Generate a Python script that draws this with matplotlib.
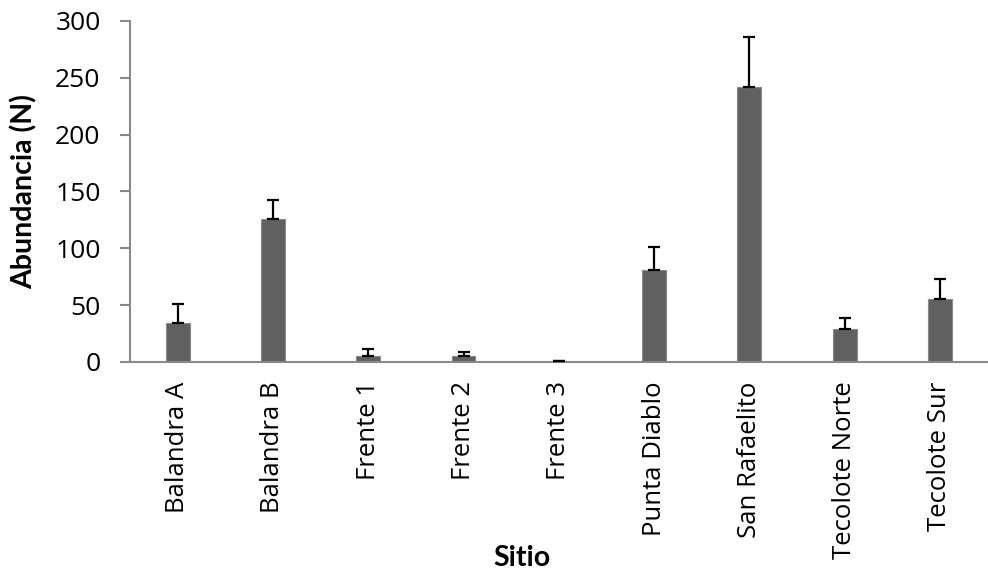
import matplotlib
matplotlib.use("Agg")
import matplotlib.pyplot as plt
import numpy as np

# datos
sitios = ['Balandra A', 'Balandra B', 'Frente 1', 'Frente 2', 'Frente 3',
          'Punta Diablo', 'San Rafaelito', 'Tecolote Norte', 'Tecolote Sur']
abundancia = [34.5, 126, 5, 5, 0.8, 80.6, 241.6, 29, 55.7]
error_sup = [16.8, 16, 6, 4, 0, 20.8, 44.5, 9.4, 17.3]

fig = plt.figure(figsize=(9.88, 5.79), dpi=100)
ax = fig.add_axes([0.1316, 0.375, 0.868, 0.589])

x = np.arange(len(sitios))
ax.bar(x, abundancia, width=0.25, color='#606060', edgecolor='#8a8a8a', linewidth=0.8, zorder=2)
ax.errorbar(x, abundancia, yerr=[np.zeros(len(sitios)), error_sup], fmt='none',
            ecolor='black', elinewidth=1.6, capsize=4.5, capthick=1.6, zorder=3)

ax.set_xlim(-0.5, len(sitios) - 0.5)
ax.set_ylim(0, 300)
ax.set_yticks(range(0, 301, 50))
ax.set_xticks(x)
ax.set_xticklabels(sitios, rotation=90, fontsize=18.5, family='Open Sans')
ax.tick_params(axis='x', length=0, pad=14)
ax.tick_params(axis='y', length=7.2, width=1.5, color='#898989', labelsize=19, pad=14)

for lab in ax.get_yticklabels():
    lab.set_family('Open Sans')

for side in ['top', 'right']:
    ax.spines[side].set_visible(False)
for side in ['left', 'bottom']:
    ax.spines[side].set_color('#898989')
    ax.spines[side].set_linewidth(1.5)

ax.set_ylabel('Abundancia (N)', fontsize=20.5, fontweight='bold', family='Lato')
ax.yaxis.set_label_coords(-0.108, 0.5)
ax.set_xlabel('Sitio', fontsize=20.5, fontweight='bold', family='Lato')
ax.xaxis.set_label_coords(0.457, -0.538)

fig.savefig('out.png', dpi=100)
